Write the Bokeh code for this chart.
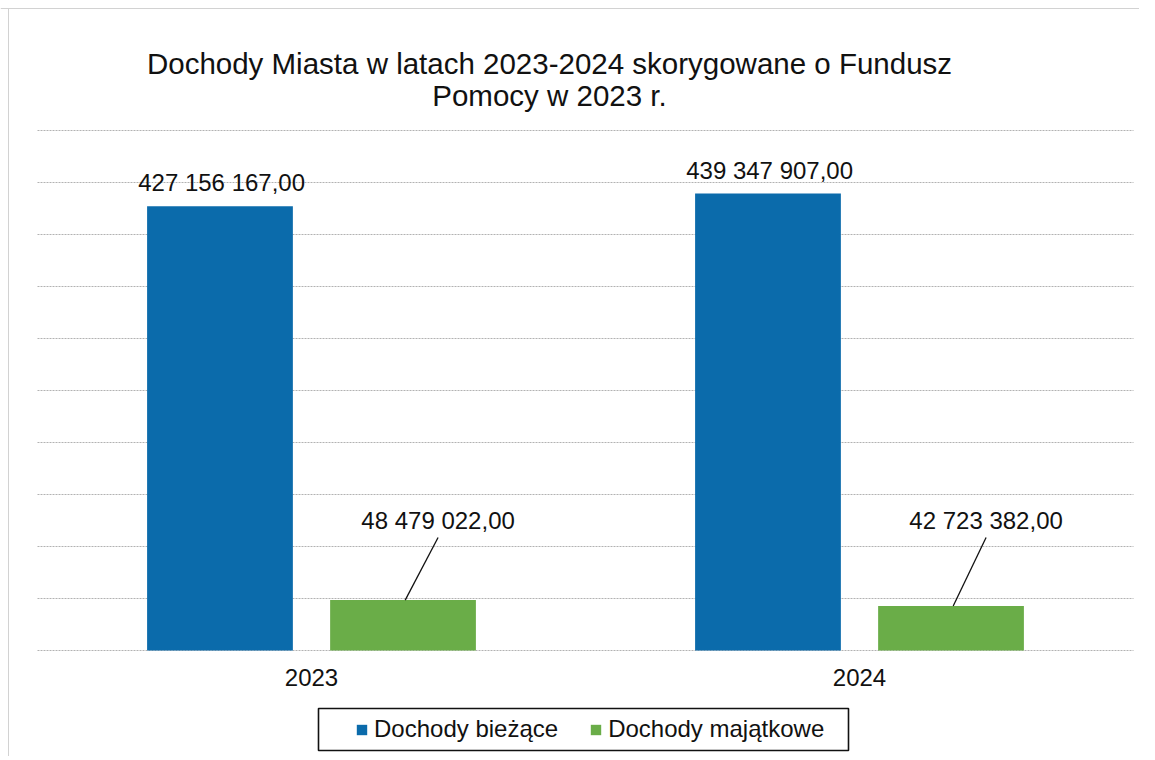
from bokeh.plotting import figure
from bokeh.models import ColumnDataSource, Range1d, BoxAnnotation, Legend, LegendItem
from bokeh.core.properties import value
from bokeh.transform import dodge
from bokeh.embed import file_html
from bokeh.resources import INLINE

# ---- data ----
years = ["2023", "2024"]
dochody_biezace = [427156167.00, 439347907.00]
dochody_majatkowe = [48479022.00, 42723382.00]
series_names = ["Dochody bieżące", "Dochody majątkowe"]
title_lines = ["Dochody Miasta w latach 2023-2024 skorygowane o Fundusz",
               "Pomocy w 2023 r."]
y_max = 500_000_000
y_step = 50_000_000
y_ticks = list(range(0, y_max + 1, y_step))


def fmt(v):
    return f"{v:,.2f}".replace(",", " ").replace(".", ",")


BLUE = "#0b6bab"
GREEN = "#6aad48"
INK = "#111111"
FONT = value("Liberation Sans")

# ---- layout geometry (pixels) ----
W, H = 1139, 756
PL, PR, PT, PB = 37, 1133, 130, 650          # plot area in canvas pixels
n = len(years)
cat_px = (PR - PL) / n                          # pixels per category
k = y_max / (PB - PT)                           # value units per pixel


def vy(py):                                     # canvas pixel row -> value
    return (PB - py) * k


def vx(px):                                     # canvas pixel column -> category units
    return (px - PL) / cat_px


x_idx = [i + 0.5 for i in range(n)]

src = ColumnDataSource(dict(
    x=x_idx,
    year=years,
    biezace=dochody_biezace,
    majatkowe=dochody_majatkowe,
    lab_b=[fmt(v) for v in dochody_biezace],
    lab_m=[fmt(v) for v in dochody_majatkowe],
    lab_m_y=[vy(533)] * n,
    lead_top=[vy(537)] * n,
    year_y=[vy(677)] * n,
))

p = figure(width=W, height=H, output_backend="svg", toolbar_location=None,
           x_range=Range1d(vx(0), vx(W)), y_range=Range1d(vy(H), vy(0)),
           x_axis_location=None, y_axis_location=None,
           min_border=0, min_border_left=0, min_border_right=0,
           min_border_top=0, min_border_bottom=0)
p.outline_line_color = None
p.grid.visible = False
p.background_fill_color = "white"
p.border_fill_color = "white"

# faint outer chart border (top and left)
p.segment(x0=[vx(0), vx(8)], y0=[vy(8), vy(8)], x1=[vx(W), vx(8)], y1=[vy(8), vy(H)],
          line_color="#d2d2d2", line_width=1)

# horizontal gridlines across the plot area
p.segment(x0=[0] * len(y_ticks), x1=[n] * len(y_ticks), y0=y_ticks, y1=y_ticks,
          line_color="#b2b2b2", line_width=1, line_dash="2 1")

off_bar = 0.167
bw = 0.266
rb = p.vbar(x=dodge("x", -off_bar, range=p.x_range), top="biezace", width=bw,
            source=src, fill_color=BLUE, line_color=None)
rm = p.vbar(x=dodge("x", off_bar, range=p.x_range), top="majatkowe", width=bw,
            source=src, fill_color=GREEN, line_color=None)

# value labels for blue bars
p.text(x=dodge("x", -off_bar + 0.003, range=p.x_range), y="biezace", text="lab_b",
       source=src, text_align="center", text_baseline="bottom", y_offset=-10,
       text_font=FONT, text_font_size="24px", text_color=INK)

# leader lines + labels for green bars
lab_off = off_bar + 0.064
p.segment(x0=dodge("x", off_bar + 0.004, range=p.x_range), y0="majatkowe",
          x1=dodge("x", lab_off, range=p.x_range), y1="lead_top",
          source=src, line_color=INK, line_width=1.3)
p.text(x=dodge("x", lab_off, range=p.x_range), y="lab_m_y", text="lab_m",
       source=src, text_align="center", text_baseline="bottom",
       text_font=FONT, text_font_size="24px", text_color=INK)

# category labels
p.text(x="x", y="year_y", text="year", source=src, text_align="center",
       text_baseline="middle", text_font=FONT, text_font_size="24px",
       text_color=INK)

# title (two centred lines)
p.text(x=[vx(549)] * 2, y=[vy(63), vy(95)], text=title_lines,
       text_align="center", text_baseline="middle", text_font=FONT,
       text_font_size="29.5px", text_color=INK)

# legend box
p.add_layout(BoxAnnotation(left=vx(318), right=vx(848), top=vy(708), bottom=vy(750),
                           fill_color="white", fill_alpha=1,
                           line_color=INK, line_alpha=1, line_width=1.6))

lg = Legend(items=[LegendItem(label=series_names[0], renderers=[rb]),
                   LegendItem(label=series_names[1], renderers=[rm])],
            orientation="horizontal", location=(355, H - 751 + 8))
lg.border_line_color = None
lg.background_fill_alpha = 0
lg.label_text_font = "Liberation Sans"
lg.label_text_font_size = "24px"
lg.label_text_color = INK
lg.glyph_width = 13
lg.glyph_height = 13
lg.label_standoff = 6
lg.spacing = 31
lg.padding = 8
lg.margin = 0
p.add_layout(lg, "center")

open("out.html", "w").write(file_html(p, INLINE))
